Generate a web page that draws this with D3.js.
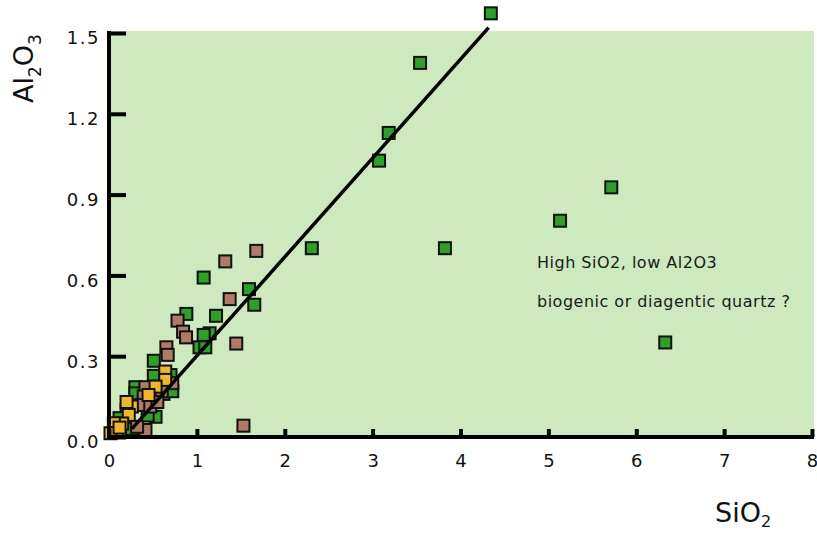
<!DOCTYPE html>
<html>
<head>
<meta charset="utf-8">
<script src="https://cdn.jsdelivr.net/npm/d3@7"></script>
<style>
  body { margin: 0; background: #fff; }
  svg { display: block; font-family: "DejaVu Sans", sans-serif; }
</style>
</head>
<body>
<svg id="chart" width="817" height="533" viewBox="0 0 817 533"></svg>
<script>
// SiO2 / Al2O3 pairs per group
const greenPts = [
    [4.345, 1.573], [3.54, 1.389], [3.183, 1.129], [3.073, 1.026], [2.308, 0.701],
    [3.823, 0.701], [5.133, 0.803], [5.716, 0.927], [6.33, 0.351],
    [1.077, 0.592], [1.593, 0.549], [1.653, 0.491], [1.218, 0.45], [0.88, 0.457],
    [1.145, 0.385], [1.077, 0.379], [1.03, 0.333], [1.096, 0.333],
    [0.51, 0.283], [0.51, 0.227], [0.70, 0.23], [0.66, 0.19], [0.30, 0.185],
    [0.30, 0.162], [0.53, 0.075], [0.26, 0.03], [0.2, 0.1], [0.62, 0.16],
    [0.12, 0.07], [0.44, 0.08], [0.72, 0.17]
];
const brownPts = [
    [1.676, 0.691], [1.323, 0.652], [1.373, 0.512], [0.78, 0.432], [0.843, 0.391],
    [0.877, 0.37], [1.448, 0.347], [0.653, 0.333], [0.668, 0.305], [0.72, 0.2],
    [0.51, 0.187], [0.415, 0.185], [0.395, 0.15], [0.377, 0.119], [0.47, 0.113],
    [0.415, 0.026], [0.32, 0.038], [1.53, 0.042], [0.6, 0.17], [0.55, 0.13]
];
const yellowPts = [
    [0.64, 0.243], [0.64, 0.212], [0.53, 0.187], [0.45, 0.156], [0.26, 0.113],
    [0.225, 0.082], [0.15, 0.05], [0.093, 0.02], [0.055, 0.051], [0.017, 0.014],
    [0.2, 0.13], [0.12, 0.035]
];
const trendLine = [[0.26, 0.03], [4.32, 1.52]];
const xTicks = [0, 1, 2, 3, 4, 5, 6, 7, 8];
const yTicks = [0, 0.3, 0.6, 0.9, 1.2, 1.5];
const noteLines = ["High SiO2, low Al2O3", "biogenic or diagentic quartz ?"];

const svg = d3.select("#chart");

const x = d3.scaleLinear().domain([0, 8]).range([109, 812]);
const y = d3.scaleLinear().domain([0, 1.5]).range([437, 33]);

// shaded field
svg.append("rect")
    .attr("x", x(0)).attr("y", 31)
    .attr("width", 814 - x(0)).attr("height", y(0) - 31)
    .attr("fill", "#cde9bd");

// points: green, then brown, then yellow on top
const groups = [
    { pts: greenPts, fill: "#2f9f2b" },
    { pts: brownPts, fill: "#b07b66" },
    { pts: yellowPts, fill: "#f0b62d" }
];
const sz = 12;
groups.forEach(g => {
    svg.append("g")
        .selectAll("rect")
        .data(g.pts)
        .enter()
        .append("rect")
        .attr("x", d => x(d[0]) - sz / 2)
        .attr("y", d => y(d[1]) - sz / 2)
        .attr("width", sz).attr("height", sz)
        .attr("fill", g.fill)
        .attr("stroke", "#111")
        .attr("stroke-width", 2);
});

// regression line
svg.append("path")
    .datum(trendLine)
    .attr("d", d3.line().x(d => x(d[0])).y(d => y(d[1])))
    .attr("stroke", "#000")
    .attr("stroke-width", 3.5)
    .attr("fill", "none");

// axes
const xAxis = svg.append("g")
    .attr("transform", `translate(0,${y(0)})`)
    .call(d3.axisBottom(x).tickValues(xTicks).tickSizeInner(-8).tickSizeOuter(0).tickPadding(17));
const yAxis = svg.append("g")
    .attr("transform", `translate(${x(0)},0)`)
    .call(d3.axisLeft(y).tickValues(yTicks).tickFormat(d3.format(".1f")).tickSizeInner(-17).tickSizeOuter(0).tickPadding(9));

[xAxis, yAxis].forEach(a => {
    a.select(".domain").attr("stroke", "#000").attr("stroke-width", 4);
    a.selectAll(".tick line").attr("stroke", "#000").attr("stroke-width", 4);
    a.selectAll(".tick text")
        .attr("fill", "#111")
        .style("font-size", "18px")
        .style("font-family", "'DejaVu Sans', sans-serif");
});
yAxis.selectAll(".tick text").attr("dy", "0.6em").style("letter-spacing", "1.5px");
// stretch axis lines to match the frame
xAxis.select(".domain").attr("d", `M${x(0) - 2},0H${814}`);
yAxis.select(".domain").attr("d", `M0,${y(0) + 2}V31`);

// annotation
svg.append("g")
    .selectAll("text")
    .data(noteLines)
    .enter()
    .append("text")
    .attr("x", 537)
    .attr("y", (d, i) => 268 + i * 39)
    .attr("fill", "#1a1a1a")
    .style("font-size", "16px")
    .style("letter-spacing", "0.5px")
    .text(d => d);

// axis titles
const xt = svg.append("text")
    .attr("x", 715).attr("y", 522)
    .attr("fill", "#111")
    .style("font-size", "27px");
xt.append("tspan").text("SiO");
xt.append("tspan").attr("dy", 5).style("font-size", "16px").text("2");

const yt = svg.append("text")
    .attr("transform", "translate(33,103) rotate(-90)")
    .attr("fill", "#111")
    .style("font-size", "27px");
yt.append("tspan").text("Al");
yt.append("tspan").attr("dy", 8).style("font-size", "17px").text("2");
yt.append("tspan").attr("dy", -8).text("O");
yt.append("tspan").attr("dy", 8).style("font-size", "17px").text("3");
</script>
</body>
</html>
